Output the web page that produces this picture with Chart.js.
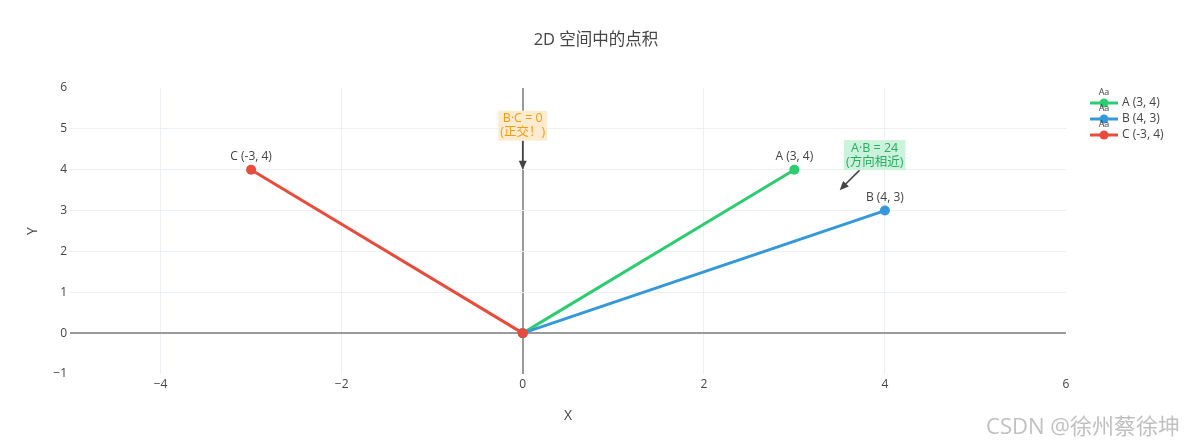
<!DOCTYPE html>
<html>
<head>
<meta charset="utf-8">
<script src="https://cdn.jsdelivr.net/npm/chart.js@4/dist/chart.umd.min.js"></script>
<style>
  html, body { margin: 0; padding: 0; background: #fff; }
  #wrap { width: 1184px; height: 446px; position: relative; }
</style>
</head>
<body>
<div id="wrap"><canvas id="c" width="1184" height="446"></canvas></div>
<script>
// Vectors drawn from the origin
const vectorNames = ['A', 'B', 'C'];
const vectorX = [3, 4, -3];
const vectorY = [4, 3, 4];
const vectorColors = ['#2ecc71', '#3498db', '#e74c3c'];

// Axis ticks
const xTickValues = [-4, -2, 0, 2, 4, 6];
const yTickValues = [-1, 0, 1, 2, 3, 4, 5, 6];

// Dot products shown as callouts
const noteTexts = [['B·C = 0', '(正交！)'], ['A·B = 24', '(方向相近)']];
const noteTargetX = [0, 3.5];
const noteTargetY = [4, 3.5];

const FONT = '"Open Sans", "Noto Sans CJK SC", sans-serif';
const TEXT = '#444';

const noteStyle = [
  { ax: 0, ay: -44, color: '#f39c12', bg: 'rgba(243,156,18,0.2)' },
  { ax: 35, ay: -35, color: '#27ae60', bg: 'rgba(46,204,113,0.25)' }
];

const vecLabel = (i) => `${vectorNames[i]} (${vectorX[i]}, ${vectorY[i]})`;

// later vectors are painted over earlier ones
const datasets = vectorNames.map((n, i) => ({
  label: vecLabel(i),
  data: [{ x: 0, y: 0 }, { x: vectorX[i], y: vectorY[i] }],
  order: vectorNames.length - i,
  showLine: true,
  borderColor: vectorColors[i],
  backgroundColor: vectorColors[i],
  borderWidth: 3,
  pointRadius: 5,
  pointHoverRadius: 5,
  pointBorderWidth: 0
}));

const fmt = (v) => (v < 0 ? '\u2212' + Math.abs(v) : String(v));

function gridColor(ctx, edges) {
  const v = ctx.tick && ctx.tick.value;
  if (v === 0) return '#9a9a9a';
  if (edges.includes(v)) return 'rgba(0,0,0,0)';
  return '#eceff3';
}
function gridWidth(ctx) {
  return ctx.tick && ctx.tick.value === 0 ? 2 : 1;
}

// Titles, point labels, callouts, legend and the footer mark
const overlay = {
  id: 'overlay',
  afterDatasetsDraw(chart) {
    const c = chart.ctx;
    const xs = chart.scales.x, ys = chart.scales.y;
    const area = chart.chartArea;
    c.save();

    // point labels
    c.font = `12px ${FONT}`;
    c.fillStyle = TEXT;
    c.textAlign = 'center';
    c.textBaseline = 'middle';
    vectorNames.forEach((n, i) => {
      c.fillText(vecLabel(i), xs.getPixelForValue(vectorX[i]), ys.getPixelForValue(vectorY[i]) - 13);
    });

    // callouts
    noteTexts.forEach((lines, i) => {
      const st = noteStyle[i];
      const tx = xs.getPixelForValue(noteTargetX[i]);
      const ty = ys.getPixelForValue(noteTargetY[i]);
      const cx = tx + st.ax, cy = ty + st.ay;
      c.font = `12.5px ${FONT}`;
      const w = Math.max(...lines.map(l => c.measureText(l).width)) + 4;
      const lh = 14, h = lines.length * lh + 2;
      const bx = cx - w / 2, by = cy - h / 2;
      // arrow from box edge to target
      const dx = tx - cx, dy = ty - cy;
      const len = Math.hypot(dx, dy);
      const ux = dx / len, uy = dy / len;
      const tBox = Math.min(Math.abs(dx) > 0 ? (w / 2) / Math.abs(dx) : Infinity,
                            Math.abs(dy) > 0 ? (h / 2) / Math.abs(dy) : Infinity);
      const sx = cx + dx * tBox, sy = cy + dy * tBox;
      const head = 9;
      c.strokeStyle = '#444';
      c.fillStyle = '#444';
      c.lineWidth = 1.6;
      c.beginPath();
      c.moveTo(sx, sy);
      c.lineTo(tx - ux * head * 0.8, ty - uy * head * 0.8);
      c.stroke();
      c.beginPath();
      c.moveTo(tx, ty);
      c.lineTo(tx - ux * head - uy * 4, ty - uy * head + ux * 4);
      c.lineTo(tx - ux * head + uy * 4, ty - uy * head - ux * 4);
      c.closePath();
      c.fill();
      // box and text
      c.fillStyle = '#fff';
      c.fillRect(bx, by, w, h);
      c.fillStyle = st.bg;
      c.fillRect(bx, by, w, h);
      c.fillStyle = st.color;
      c.textAlign = 'center';
      c.textBaseline = 'middle';
      lines.forEach((l, k) => c.fillText(l, cx, by + 1 + lh / 2 + k * lh));
    });

    // chart title
    c.fillStyle = TEXT;
    c.font = `16.5px ${FONT}`;
    c.textAlign = 'center';
    c.fillText('2D 空间中的点积', 596, 40);

    // axis titles
    c.font = `14px ${FONT}`;
    c.fillText('X', (area.left + area.right) / 2, 416);
    c.save();
    c.translate(33, (area.top + area.bottom) / 2);
    c.rotate(-Math.PI / 2);
    c.fillText('Y', 0, 0);
    c.restore();

    // legend
    vectorNames.forEach((n, i) => {
      const y = 103 + i * 16;
      c.strokeStyle = vectorColors[i];
      c.lineWidth = 3;
      c.beginPath();
      c.moveTo(1090, y);
      c.lineTo(1118, y);
      c.stroke();
      c.fillStyle = vectorColors[i];
      c.beginPath();
      c.arc(1104, y, 4.5, 0, Math.PI * 2);
      c.fill();
      c.fillStyle = TEXT;
      c.font = `9px ${FONT}`;
      c.textAlign = 'center';
      c.fillText('Aa', 1104, y - 11);
      c.font = `12px ${FONT}`;
      c.textAlign = 'left';
      c.fillText(vecLabel(i), 1122, y);
    });

    // footer mark
    c.font = `22px ${FONT}`;
    c.textAlign = 'right';
    c.fillStyle = 'rgba(165,165,165,0.7)';
    c.fillText('CSDN @徐州蔡徐坤', 1180, 428);

    c.restore();
  }
};

new Chart(document.getElementById('c'), {
  type: 'scatter',
  data: { datasets },
  plugins: [overlay],
  options: {
    responsive: false,
    animation: false,
    events: [],
    layout: { padding: { left: 0, top: 88, right: 118, bottom: 0 } },
    plugins: { legend: { display: false }, title: { display: false }, tooltip: { enabled: false } },
    scales: {
      x: {
        type: 'linear',
        min: -5,
        max: 6,
        afterBuildTicks: (s) => { s.ticks = xTickValues.map(v => ({ value: v })); },
        afterFit: (s) => { s.height = 72; },
        border: { display: false },
        grid: {
          drawTicks: false,
          color: (ctx) => gridColor(ctx, [6]),
          lineWidth: gridWidth
        },
        ticks: {
          padding: 3,
          color: TEXT,
          font: { family: FONT, size: 12 },
          callback: (v) => fmt(v),
          maxRotation: 0
        }
      },
      y: {
        type: 'linear',
        min: -1,
        max: 6,
        afterBuildTicks: (s) => { s.ticks = yTickValues.map(v => ({ value: v })); },
        afterFit: (s) => { s.width = 70; },
        border: { display: false },
        grid: {
          drawTicks: false,
          color: (ctx) => gridColor(ctx, [-1, 6]),
          lineWidth: gridWidth
        },
        ticks: {
          padding: 3,
          color: TEXT,
          font: { family: FONT, size: 12 },
          callback: (v) => fmt(v)
        }
      }
    }
  }
});
</script>
</body>
</html>
